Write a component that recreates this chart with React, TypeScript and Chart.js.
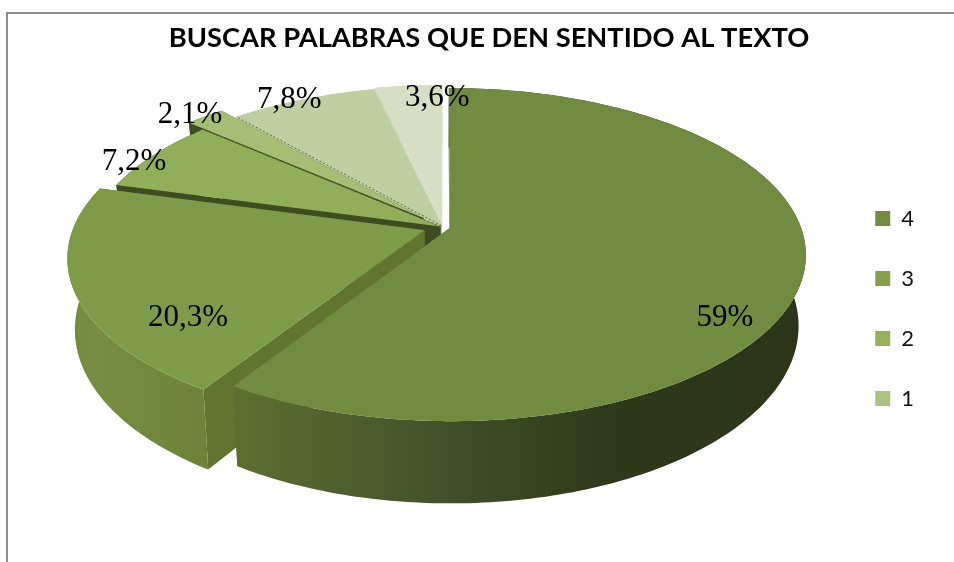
import React, { useEffect, useRef } from "react";
import { Chart, registerables } from "chart.js";

Chart.register(...registerables);

const categories = ["4", "3", "2", "1", "", ""];
const values = [59, 20.3, 7.2, 2.1, 7.8, 3.6];
const valueLabels = ["59%", "20,3%", "7,2%", "2,1%", "7,8%", "3,6%"];
const topColors = ["#718b40", "#7e9b49", "#91ae59", "#a5bd74", "#c0cfa2", "#d6dfc3"];
const legendColors = ["#748a40", "#859f4f", "#97b05a", "#abc37c"];
const explosion = [20, 56, 8, 80, 10, 20];
const edgeColors = ["#5d6f30", "#627530", "#3f4c22", "#3f4c22", "#c0cfa2", "#cbd7b2"];
const drawOrder = [5, 4, 3, 2, 1, 0];

// Projection of the tilted pie on the page
const view = { cx: 443, cy: 227, rx: 351, ry: 162, k: 0.16, depth: 69, shrink: 0.02 };
const labelNudge = [[-5, 52], [40, 38], [-74, -6], [-55, -20], [-38, -22], [23, -12]];

function project(u: number, v: number, z: number) {
  const w = 1 / (1 - view.k * v);
  const s = 1 - view.shrink * z;
  return {
    x: view.cx + view.rx * u * w * s,
    y: view.cy + view.ry * v * w + view.depth * z * w,
  };
}

function rimGradient(ctx: CanvasRenderingContext2D, i: number) {
  const g = ctx.createLinearGradient(60, 0, 810, 0);
  if (i === 1) {
    g.addColorStop(0, "#728a3f");
    g.addColorStop(0.05, "#778e42");
    g.addColorStop(0.2, "#6d8238");
    g.addColorStop(1, "#6d8238");
  } else if (i === 0) {
    g.addColorStop(0, "#62752f");
    g.addColorStop(0.23, "#5d6f30");
    g.addColorStop(0.5, "#43522a");
    g.addColorStop(0.72, "#2f3a1a");
    g.addColorStop(1, "#2b3417");
  } else {
    g.addColorStop(0, edgeColors[i]);
    g.addColorStop(1, edgeColors[i]);
  }
  return g;
}

const pie3d = {
  id: "pie3d",
  beforeDraw(chart: any) {
    const { ctx, width, height } = chart;
    ctx.save();
    ctx.fillStyle = "#ffffff";
    ctx.fillRect(0, 0, width, height);
    ctx.strokeStyle = "#8e8e8e";
    ctx.lineWidth = 2;
    ctx.beginPath();
    ctx.moveTo(7, height);
    ctx.lineTo(7, 13);
    ctx.lineTo(width, 13);
    ctx.stroke();
    ctx.restore();
  },
  beforeDatasetsDraw(chart: any) {
    const { ctx } = chart;
    const arcs = chart.getDatasetMeta(0).data;
    const faces = (i: number) => {
      const arc = arcs[i];
      const mid = (arc.startAngle + arc.endAngle) / 2;
      const o = arc.options.offset / 1000;
      return { a0: arc.startAngle, a1: arc.endAngle, mid, ox: o * Math.cos(mid), oy: o * Math.sin(mid) };
    };
    const rim = (f: any, z: number, reverse: boolean) => {
      const n = Math.max(8, Math.ceil(((f.a1 - f.a0) * 180) / Math.PI));
      for (let j = 0; j <= n; j++) {
        const t = reverse ? 1 - j / n : j / n;
        const a = f.a0 + (f.a1 - f.a0) * t;
        const p = project(Math.cos(a) + f.ox, Math.sin(a) + f.oy, z);
        ctx.lineTo(p.x, p.y);
      }
    };
    const edgeWall = (f: any, a: number, color: string) => {
      const c0 = project(f.ox, f.oy, 0);
      const c1 = project(f.ox, f.oy, 1);
      const e0 = project(Math.cos(a) + f.ox, Math.sin(a) + f.oy, 0);
      const e1 = project(Math.cos(a) + f.ox, Math.sin(a) + f.oy, 1);
      ctx.beginPath();
      ctx.moveTo(c0.x, c0.y);
      ctx.lineTo(e0.x, e0.y);
      ctx.lineTo(e1.x, e1.y);
      ctx.lineTo(c1.x, c1.y);
      ctx.closePath();
      ctx.fillStyle = color;
      ctx.fill();
    };
    ctx.save();
    for (const i of drawOrder) {
      const f = faces(i);
      edgeWall(f, f.a0, edgeColors[i]);
      edgeWall(f, f.a1, edgeColors[i]);
      ctx.beginPath();
      rim(f, 0, false);
      rim(f, 1, true);
      ctx.closePath();
      ctx.fillStyle = rimGradient(ctx, i);
      ctx.fill();
      const c = project(f.ox, f.oy, 0);
      ctx.beginPath();
      ctx.moveTo(c.x, c.y);
      rim(f, 0, false);
      ctx.closePath();
      ctx.fillStyle = arcs[i].options.backgroundColor;
      ctx.fill();
    }
    // Dotted seams beside the small pulled-out slice
    ctx.strokeStyle = "#56663a";
    ctx.lineWidth = 1;
    ctx.setLineDash([2, 2]);
    for (const [i, side] of [[2, "a1"], [4, "a0"]] as [number, string][]) {
      const f: any = faces(i);
      const c = project(f.ox, f.oy, 0);
      const e = project(Math.cos(f[side]) + f.ox, Math.sin(f[side]) + f.oy, 0);
      ctx.beginPath();
      ctx.moveTo(c.x, c.y);
      ctx.lineTo(e.x, e.y);
      ctx.stroke();
    }
    ctx.restore();
    return false;
  },
  afterDraw(chart: any) {
    const { ctx } = chart;
    const arcs = chart.getDatasetMeta(0).data;
    ctx.save();
    ctx.font = "31px 'Liberation Serif'";
    ctx.fillStyle = "#000000";
    ctx.textAlign = "center";
    ctx.textBaseline = "middle";
    arcs.forEach((arc: any, i: number) => {
      const mid = (arc.startAngle + arc.endAngle) / 2;
      const o = arc.options.offset / 1000;
      const p = project(
        0.8 * Math.cos(mid) + o * Math.cos(mid),
        0.8 * Math.sin(mid) + o * Math.sin(mid),
        0,
      );
      ctx.fillText(valueLabels[i], p.x + labelNudge[i][0], p.y + labelNudge[i][1]);
    });
    ctx.restore();
  },
};

export default function App() {
  const ref = useRef<HTMLCanvasElement>(null);
  useEffect(() => {
    const chart = new Chart(ref.current as HTMLCanvasElement, {
      type: "pie",
      data: {
        labels: categories,
        datasets: [
          {
            data: values,
            backgroundColor: topColors,
            borderWidth: 0,
            offset: explosion,
          },
        ],
      },
      options: {
        responsive: false,
        animation: false,
        layout: { padding: { left: 54, right: 30, top: 22, bottom: -33 } },
        plugins: {
          tooltip: { enabled: false },
          title: {
            display: true,
            text: "BUSCAR PALABRAS QUE DEN SENTIDO AL TEXTO",
            color: "#000000",
            font: { family: "Lato", size: 27.3, weight: "bold" },
            padding: { top: 0, bottom: 44 },
          },
          legend: {
            position: "right",
            labels: {
              boxWidth: 15,
              boxHeight: 15,
              padding: 38,
              color: "#111111",
              font: { family: "Lato", size: 22 },
              filter: (item: any) => item.index < legendColors.length,
              generateLabels: (c: any) =>
                Chart.overrides.pie.plugins.legend.labels
                  .generateLabels(c)
                  .map((l: any, i: number) => ({
                    ...l,
                    fillStyle: legendColors[i] ?? l.fillStyle,
                    strokeStyle: "transparent",
                    lineWidth: 0,
                  })),
            },
          },
        },
      },
      plugins: [pie3d],
    } as any);
    return () => chart.destroy();
  }, []);
  return (
    <canvas
      ref={ref}
      width={954}
      height={562}
      style={{ position: "fixed", left: 0, top: 0, display: "block" }}
    />
  );
}
